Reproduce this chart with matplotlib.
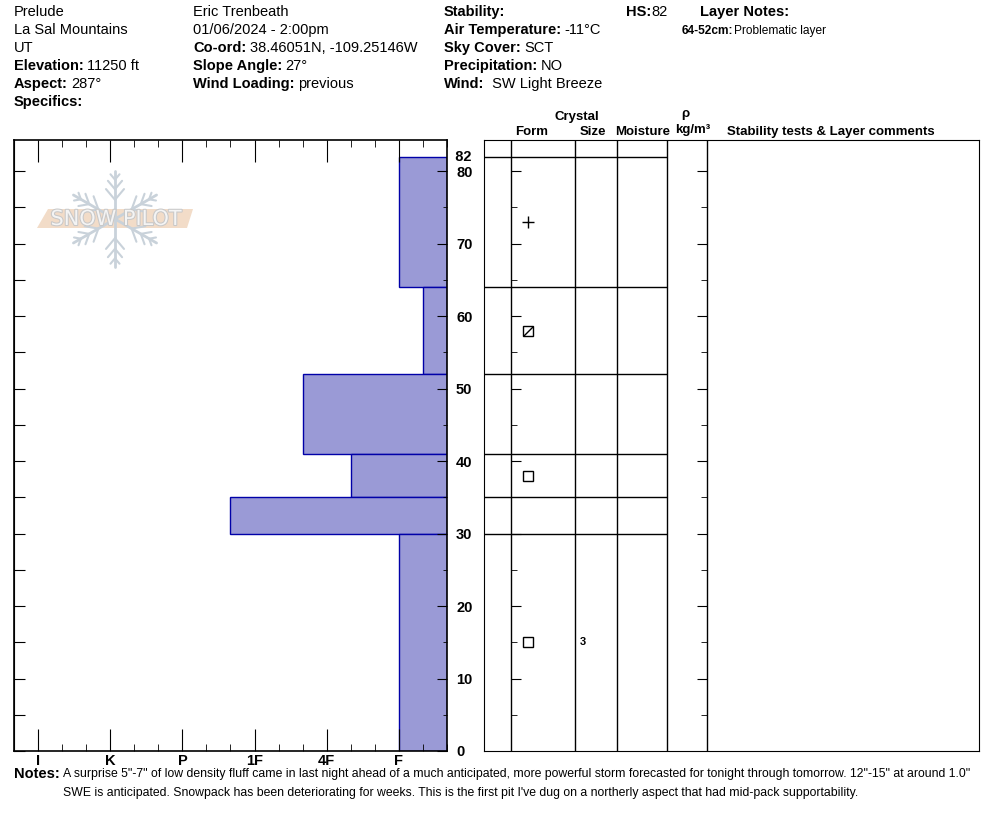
import numpy as np
import matplotlib
matplotlib.use('Agg')
import matplotlib.pyplot as plt
import matplotlib.patheffects as pe
from matplotlib.patches import Polygon
from matplotlib import font_manager

plt.rcParams['font.family'] = ['Liberation Sans', 'DejaVu Sans']
names = {f.name for f in font_manager.fontManager.ttflist}
narrow = 'Liberation Sans Narrow' if 'Liberation Sans Narrow' in names else 'Liberation Sans'

# ---- pit header ----
col1 = [('', 'Prelude'), ('', 'La Sal Mountains'), ('', 'UT'),
        ('Elevation:', '11250 ft'), ('Aspect:', '287°'), ('Specifics:', '')]
col2 = [('', 'Eric Trenbeath'), ('', '01/06/2024 - 2:00pm'),
        ('Co-ord:', '38.46051N, -109.25146W'), ('Slope Angle:', '27°'),
        ('Wind Loading:', 'previous')]
col3 = [('Stability:', ''), ('Air Temperature:', '-11°C'), ('Sky Cover:', 'SCT'),
        ('Precipitation:', 'NO'), ('Wind:', ' SW Light Breeze')]
hs = 82
layer_note_range = '64-52cm:'
layer_note_text = 'Problematic layer'
notes = ['A surprise 5"-7" of low density fluff came in last night ahead of a much anticipated, '
         'more powerful storm forecasted for tonight through tomorrow. 12"-15" at around 1.0"',
         "SWE is anticipated. Snowpack has been deteriorating for weeks. This is the first pit "
         "I've dug on a northerly aspect that had mid-pack supportability."]

# ---- layers ----
layer_tops = [82, 64, 52, 41, 35, 30]
layer_bottoms = [64, 52, 41, 35, 30, 0]
layer_hardness = ['F', 'F-', '4F+', '4F-', '1F+', 'F']
layer_form = ['+', 'fcxr', '', 'fc', '', 'fc']
layer_size = ['', '', '', '', '', '3']
hardness_labels = ['F', '4F', '1F', 'P', 'K', 'I']


def hard_value(h):
    base = hardness_labels.index(h.rstrip('+-')) + 1
    if h.endswith('+'):
        return base + 1/3
    if h.endswith('-'):
        return base - 1/3
    return base


W, H = 994, 840
fig = plt.figure(figsize=(W/100, H/100), dpi=100)


def px_axes(x0, y0, x1, y1):
    return fig.add_axes([x0/W, 1 - y1/H, (x1 - x0)/W, (y1 - y0)/H])


ymax = (751 - 140) / 7.25

# ---- hardness profile ----
ax = px_axes(14, 140, 447, 751)
xr, xl = 1/3, 6 + 1/3
ax.set_xlim(xl, xr)
ax.set_ylim(0, ymax)
for top, bot, hd in zip(layer_tops, layer_bottoms, layer_hardness):
    ax.barh(bot, hard_value(hd) - xr, left=xr, height=top - bot, align='edge',
            color='#9a9ad6', edgecolor='#0000a8', linewidth=1, zorder=1)
ax.set_xticks(range(1, 7))
ax.set_xticklabels(hardness_labels, fontweight='bold', fontsize=10.5, family=narrow)
minor = [v for v in np.arange(1, 19) / 3 if abs(v - round(v)) > 0.01]
ax.set_xticks(minor, minor=True)
ax.tick_params(axis='x', which='major', direction='in', length=16, top=True, bottom=True, pad=2)
ax.tick_params(axis='x', which='minor', direction='in', length=5, top=True, bottom=True)
ax.set_yticks(range(0, 81, 10))
ax.set_yticks(range(5, 81, 10), minor=True)
ax.tick_params(axis='y', which='both', direction='in', left=False, right=True,
               labelleft=False, labelright=True)
ax.tick_params(axis='y', which='major', length=7, pad=6.5)
ax.tick_params(axis='y', which='minor', length=3)
for lab in ax.get_yticklabels():
    lab.set_fontweight('bold')
    lab.set_fontsize(10.5)
    lab.set_family(narrow)
ax.text(1.0, hs, '  ' + str(hs), transform=ax.get_yaxis_transform(), fontweight='bold',
        fontsize=10.5, family=narrow, va='center', ha='left')
sec = ax.secondary_yaxis('left')
sec.set_yticks(range(0, 81, 5))
sec.tick_params(direction='in', length=8, labelleft=False)
for s in ax.spines.values():
    s.set_linewidth(1.2)
    s.set_zorder(3)

# ---- layer table ----
axr = px_axes(484, 140, 979, 751)
axr.set_xlim(484, 979)
axr.set_ylim(0, ymax)
axr.set_xticks([])
axr.set_yticks([])
for x in [511, 575, 617, 667, 707]:
    axr.axvline(x, color='k', lw=1)
axr.hlines([hs] + layer_bottoms[:-1], 484, 667, color='k', lw=1)
form_x, size_x = 528, 580
for top, bot, form, size in zip(layer_tops, layer_bottoms, layer_form, layer_size):
    mid = (top + bot) / 2
    if form == '+':
        axr.plot(form_x, mid, marker='+', ms=8, mew=1, color='k')
    elif form in ('fc', 'fcxr'):
        axr.plot(form_x, mid, marker='s', ms=7, mew=1, mfc='white', mec='k')
        if form == 'fcxr':
            axr.plot(form_x, mid, marker=[(-1, -1), (1, 1)], ms=7, mew=1, color='k')
    if size:
        axr.text(size_x, mid, size, fontsize=8, fontweight='bold', va='center')

axt = px_axes(511, 140, 707, 751)
axt.set_facecolor('none')
axt.set_ylim(0, ymax)
axt.set_xticks([])
for s in axt.spines.values():
    s.set_visible(False)
axt.set_yticks(range(10, 81, 10))
axt.set_yticks(range(5, 81, 10), minor=True)
axt.tick_params(axis='y', which='both', direction='in', left=True, right=True,
                labelleft=False, labelright=False)
axt.tick_params(axis='y', which='major', length=7.5)
axt.tick_params(axis='y', which='minor', length=4.5)

# ---- overlay text + watermark (pixel coords) ----
ov = fig.add_axes([0, 0, 1, 1])
ov.set_xlim(0, W)
ov.set_ylim(H, 0)
ov.axis('off')
ov.patch.set_alpha(0)
renderer = fig.canvas.get_renderer()


def label_value(x, y, label, value, fs=10.5, gap=3.5):
    if label:
        t = ov.text(x, y, label, fontweight='bold', fontsize=fs, va='center')
        x = x + t.get_window_extent(renderer).width + gap
    if value:
        ov.text(x, y, value, fontsize=fs, va='center')


for colx, rows in [(14, col1), (193, col2), (444, col3)]:
    for i, (lab, val) in enumerate(rows):
        label_value(colx, 12 + 18 * i, lab, val)
label_value(626, 12, 'HS:', str(hs), gap=0)
label_value(700, 12, 'Layer Notes:', '')
label_value(682, 31, layer_note_range, layer_note_text, fs=8.6, gap=0.5)

hdr = dict(fontweight='bold', fontsize=9.5, va='center', ha='center')
ov.text(577, 117, 'Crystal', **hdr)
ov.text(532, 132, 'Form', **hdr)
ov.text(593, 132, 'Size', **hdr)
ov.text(643, 132, 'Moisture', **hdr)
ov.text(685, 114, 'ρ', **hdr)
ov.text(693, 130, 'kg/m³', **hdr)
ov.text(727, 132, 'Stability tests & Layer comments', fontweight='bold', fontsize=9.5,
        va='center', ha='left')

ov.text(14, 774, 'Notes:', fontweight='bold', fontsize=10.5, va='center')
for i, line in enumerate(notes):
    ov.text(63, 774 + 19 * i, line, fontsize=8.8, va='center')

# watermark
cx, cy, R = 115, 219, 48
flake = '#c9d2da'
for a in np.radians([90, 30, 150, 210, 270, 330]):
    d = np.array([np.cos(a), -np.sin(a)])
    ov.plot([cx, cx + R * d[0]], [cy, cy + R * d[1]], color=flake, lw=2.0,
            solid_capstyle='round')
    for f, L in [(0.4, 14), (0.62, 11), (0.82, 7)]:
        p = np.array([cx, cy]) + f * R * d
        for s in (1, -1):
            b = np.radians(40) * s
            rd = np.array([d[0] * np.cos(b) - d[1] * np.sin(b),
                           d[0] * np.sin(b) + d[1] * np.cos(b)])
            q = p + L * rd
            ov.plot([p[0], q[0]], [p[1], q[1]], color=flake, lw=1.5,
                    solid_capstyle='round')
ov.add_patch(Polygon([(37, 228), (48, 209), (193, 209), (187, 228)], closed=True,
                     facecolor='#f2dcc8', edgecolor='none'))
ov.text(116, 219, 'SNOW PILOT', fontsize=15, color='#f4f4f4', ha='center', va='center',
        family='DejaVu Sans',
        path_effects=[pe.withStroke(linewidth=1.5, foreground='#c8c8c8')])

fig.savefig('out.png', dpi=100)
